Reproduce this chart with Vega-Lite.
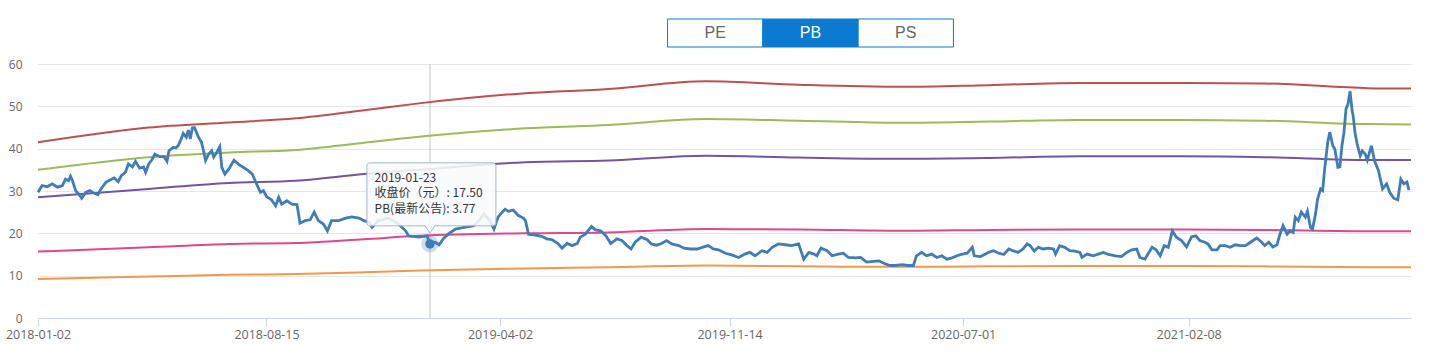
{
  "$schema": "https://vega.github.io/schema/vega-lite/v6.json",
  "padding": {"top": 18, "left": 5, "right": 16, "bottom": 4},
  "background": "#ffffff",
  "spacing": 10,
  "resolve": {"scale": {"color": "independent", "fill": "independent"}},
  "config": {"view": {"stroke": null}, "font": "Open Sans"},
  "datasets": {
    "buttons": [
      {"label": "PE", "state": "off"},
      {"label": "PB", "state": "on"},
      {"label": "PS", "state": "off"}
    ],
    "tip": [
      {"date": "2019-01-23", "close": 17.5, "pb": 3.77}
    ],
    "bands": [
      {"date": "2018-01-02", "series": "10.9倍", "value": 41.5},
      {"date": "2018-04-21", "series": "10.9倍", "value": 45.0},
      {"date": "2018-07-09", "series": "10.9倍", "value": 46.2},
      {"date": "2018-09-13", "series": "10.9倍", "value": 47.2},
      {"date": "2018-11-19", "series": "10.9倍", "value": 49.1},
      {"date": "2019-01-12", "series": "10.9倍", "value": 50.7},
      {"date": "2019-04-27", "series": "10.9倍", "value": 53.1},
      {"date": "2019-07-18", "series": "10.9倍", "value": 54.1},
      {"date": "2019-10-22", "series": "10.9倍", "value": 55.9},
      {"date": "2020-01-21", "series": "10.9倍", "value": 55.1},
      {"date": "2020-05-01", "series": "10.9倍", "value": 54.6},
      {"date": "2020-07-26", "series": "10.9倍", "value": 55.0},
      {"date": "2020-10-22", "series": "10.9倍", "value": 55.5},
      {"date": "2021-01-29", "series": "10.9倍", "value": 55.5},
      {"date": "2021-04-23", "series": "10.9倍", "value": 55.4},
      {"date": "2021-08-04", "series": "10.9倍", "value": 54.3},
      {"date": "2021-09-15", "series": "10.9倍", "value": 54.2},
      {"date": "2018-01-02", "series": "9.2倍", "value": 35.0},
      {"date": "2018-04-21", "series": "9.2倍", "value": 38.0},
      {"date": "2018-07-09", "series": "9.2倍", "value": 39.1},
      {"date": "2018-09-13", "series": "9.2倍", "value": 39.7},
      {"date": "2018-11-19", "series": "9.2倍", "value": 41.4},
      {"date": "2019-01-12", "series": "9.2倍", "value": 42.8},
      {"date": "2019-04-27", "series": "9.2倍", "value": 44.8},
      {"date": "2019-07-18", "series": "9.2倍", "value": 45.6},
      {"date": "2019-10-22", "series": "9.2倍", "value": 47.0},
      {"date": "2020-01-21", "series": "9.2倍", "value": 46.6},
      {"date": "2020-05-01", "series": "9.2倍", "value": 46.1},
      {"date": "2020-07-26", "series": "9.2倍", "value": 46.4},
      {"date": "2020-10-22", "series": "9.2倍", "value": 46.8},
      {"date": "2021-01-29", "series": "9.2倍", "value": 46.8},
      {"date": "2021-04-23", "series": "9.2倍", "value": 46.6},
      {"date": "2021-08-04", "series": "9.2倍", "value": 45.8},
      {"date": "2021-09-15", "series": "9.2倍", "value": 45.7},
      {"date": "2018-01-02", "series": "7.5倍", "value": 28.5},
      {"date": "2018-04-21", "series": "7.5倍", "value": 30.5},
      {"date": "2018-07-09", "series": "7.5倍", "value": 31.9},
      {"date": "2018-09-13", "series": "7.5倍", "value": 32.4},
      {"date": "2018-11-19", "series": "7.5倍", "value": 34.0},
      {"date": "2019-01-12", "series": "7.5倍", "value": 35.0},
      {"date": "2019-04-27", "series": "7.5倍", "value": 36.8},
      {"date": "2019-07-18", "series": "7.5倍", "value": 37.2},
      {"date": "2019-10-22", "series": "7.5倍", "value": 38.3},
      {"date": "2020-01-21", "series": "7.5倍", "value": 37.9},
      {"date": "2020-05-01", "series": "7.5倍", "value": 37.6},
      {"date": "2020-07-26", "series": "7.5倍", "value": 37.8},
      {"date": "2020-10-22", "series": "7.5倍", "value": 38.2},
      {"date": "2021-01-29", "series": "7.5倍", "value": 38.2},
      {"date": "2021-04-23", "series": "7.5倍", "value": 38.0},
      {"date": "2021-08-04", "series": "7.5倍", "value": 37.3},
      {"date": "2021-09-15", "series": "7.5倍", "value": 37.3},
      {"date": "2018-01-02", "series": "4.2倍", "value": 15.7},
      {"date": "2018-04-21", "series": "4.2倍", "value": 16.7},
      {"date": "2018-07-09", "series": "4.2倍", "value": 17.5},
      {"date": "2018-09-13", "series": "4.2倍", "value": 17.7},
      {"date": "2018-11-19", "series": "4.2倍", "value": 18.6},
      {"date": "2019-01-12", "series": "4.2倍", "value": 19.4},
      {"date": "2019-04-27", "series": "4.2倍", "value": 20.0},
      {"date": "2019-07-18", "series": "4.2倍", "value": 20.2},
      {"date": "2019-10-22", "series": "4.2倍", "value": 21.0},
      {"date": "2020-01-21", "series": "4.2倍", "value": 20.9},
      {"date": "2020-05-01", "series": "4.2倍", "value": 20.6},
      {"date": "2020-07-26", "series": "4.2倍", "value": 20.8},
      {"date": "2020-10-22", "series": "4.2倍", "value": 20.9},
      {"date": "2021-01-29", "series": "4.2倍", "value": 20.9},
      {"date": "2021-04-23", "series": "4.2倍", "value": 20.8},
      {"date": "2021-08-04", "series": "4.2倍", "value": 20.5},
      {"date": "2021-09-15", "series": "4.2倍", "value": 20.5},
      {"date": "2018-01-02", "series": "2.4倍", "value": 9.2},
      {"date": "2018-04-21", "series": "2.4倍", "value": 9.8},
      {"date": "2018-07-09", "series": "2.4倍", "value": 10.2},
      {"date": "2018-09-13", "series": "2.4倍", "value": 10.4},
      {"date": "2018-11-19", "series": "2.4倍", "value": 10.8},
      {"date": "2019-01-12", "series": "2.4倍", "value": 11.2},
      {"date": "2019-04-27", "series": "2.4倍", "value": 11.7},
      {"date": "2019-07-18", "series": "2.4倍", "value": 12.0},
      {"date": "2019-10-22", "series": "2.4倍", "value": 12.4},
      {"date": "2020-01-21", "series": "2.4倍", "value": 12.2},
      {"date": "2020-05-01", "series": "2.4倍", "value": 12.1},
      {"date": "2020-07-26", "series": "2.4倍", "value": 12.2},
      {"date": "2020-10-22", "series": "2.4倍", "value": 12.3},
      {"date": "2021-01-29", "series": "2.4倍", "value": 12.3},
      {"date": "2021-04-23", "series": "2.4倍", "value": 12.2},
      {"date": "2021-08-04", "series": "2.4倍", "value": 12.0},
      {"date": "2021-09-15", "series": "2.4倍", "value": 12.0}
    ],
    "price": [
      {"date": "2018-01-02", "close": 29.7},
      {"date": "2018-01-06", "close": 31.3},
      {"date": "2018-01-11", "close": 31.0},
      {"date": "2018-01-16", "close": 31.7},
      {"date": "2018-01-21", "close": 30.9},
      {"date": "2018-01-26", "close": 31.3},
      {"date": "2018-01-29", "close": 32.8},
      {"date": "2018-02-01", "close": 32.4},
      {"date": "2018-02-03", "close": 33.5},
      {"date": "2018-02-05", "close": 32.4},
      {"date": "2018-02-08", "close": 30.1},
      {"date": "2018-02-11", "close": 29.3},
      {"date": "2018-02-14", "close": 28.3},
      {"date": "2018-02-18", "close": 29.7},
      {"date": "2018-02-22", "close": 30.1},
      {"date": "2018-02-26", "close": 29.5},
      {"date": "2018-03-02", "close": 29.1},
      {"date": "2018-03-05", "close": 30.5},
      {"date": "2018-03-10", "close": 32.1},
      {"date": "2018-03-14", "close": 32.6},
      {"date": "2018-03-18", "close": 33.1},
      {"date": "2018-03-22", "close": 32.2},
      {"date": "2018-03-25", "close": 33.6},
      {"date": "2018-03-29", "close": 34.4},
      {"date": "2018-04-01", "close": 36.4},
      {"date": "2018-04-05", "close": 35.7},
      {"date": "2018-04-08", "close": 37.0},
      {"date": "2018-04-12", "close": 35.4},
      {"date": "2018-04-16", "close": 35.7},
      {"date": "2018-04-18", "close": 34.4},
      {"date": "2018-04-21", "close": 36.4},
      {"date": "2018-04-24", "close": 37.3},
      {"date": "2018-04-27", "close": 38.7},
      {"date": "2018-05-02", "close": 38.1},
      {"date": "2018-05-06", "close": 38.1},
      {"date": "2018-05-09", "close": 37.0},
      {"date": "2018-05-11", "close": 39.5},
      {"date": "2018-05-15", "close": 40.3},
      {"date": "2018-05-18", "close": 40.2},
      {"date": "2018-05-20", "close": 40.7},
      {"date": "2018-05-23", "close": 42.3},
      {"date": "2018-05-25", "close": 43.6},
      {"date": "2018-05-28", "close": 42.7},
      {"date": "2018-05-30", "close": 44.4},
      {"date": "2018-06-01", "close": 42.3},
      {"date": "2018-06-03", "close": 44.9},
      {"date": "2018-06-05", "close": 45.0},
      {"date": "2018-06-07", "close": 43.9},
      {"date": "2018-06-09", "close": 42.7},
      {"date": "2018-06-12", "close": 41.5},
      {"date": "2018-06-14", "close": 39.5},
      {"date": "2018-06-16", "close": 37.2},
      {"date": "2018-06-19", "close": 38.7},
      {"date": "2018-06-22", "close": 39.5},
      {"date": "2018-06-24", "close": 38.0},
      {"date": "2018-06-27", "close": 39.1},
      {"date": "2018-06-30", "close": 40.5},
      {"date": "2018-07-02", "close": 35.6},
      {"date": "2018-07-05", "close": 34.0},
      {"date": "2018-07-09", "close": 35.2},
      {"date": "2018-07-14", "close": 37.3},
      {"date": "2018-07-19", "close": 36.2},
      {"date": "2018-07-23", "close": 35.6},
      {"date": "2018-07-28", "close": 34.8},
      {"date": "2018-08-01", "close": 34.0},
      {"date": "2018-08-04", "close": 32.3},
      {"date": "2018-08-09", "close": 29.7},
      {"date": "2018-08-12", "close": 30.1},
      {"date": "2018-08-15", "close": 28.7},
      {"date": "2018-08-20", "close": 27.9},
      {"date": "2018-08-24", "close": 26.5},
      {"date": "2018-08-27", "close": 28.5},
      {"date": "2018-08-30", "close": 26.9},
      {"date": "2018-09-04", "close": 27.7},
      {"date": "2018-09-09", "close": 26.9},
      {"date": "2018-09-14", "close": 26.8},
      {"date": "2018-09-17", "close": 22.4},
      {"date": "2018-09-22", "close": 23.0},
      {"date": "2018-09-27", "close": 23.2},
      {"date": "2018-10-01", "close": 25.0},
      {"date": "2018-10-05", "close": 23.0},
      {"date": "2018-10-10", "close": 22.2},
      {"date": "2018-10-14", "close": 20.6},
      {"date": "2018-10-18", "close": 23.0},
      {"date": "2018-10-25", "close": 23.0},
      {"date": "2018-11-01", "close": 23.6},
      {"date": "2018-11-07", "close": 23.9},
      {"date": "2018-11-14", "close": 23.6},
      {"date": "2018-11-19", "close": 23.0},
      {"date": "2018-11-24", "close": 22.6},
      {"date": "2018-11-27", "close": 21.4},
      {"date": "2018-12-03", "close": 23.0},
      {"date": "2018-12-13", "close": 23.6},
      {"date": "2018-12-23", "close": 22.2},
      {"date": "2018-12-30", "close": 20.6},
      {"date": "2019-01-02", "close": 19.4},
      {"date": "2019-01-08", "close": 19.2},
      {"date": "2019-01-12", "close": 19.1},
      {"date": "2019-01-20", "close": 19.4},
      {"date": "2019-01-23", "close": 17.5},
      {"date": "2019-01-28", "close": 17.9},
      {"date": "2019-02-01", "close": 17.3},
      {"date": "2019-02-05", "close": 18.7},
      {"date": "2019-02-10", "close": 19.8},
      {"date": "2019-02-17", "close": 21.0},
      {"date": "2019-02-23", "close": 21.3},
      {"date": "2019-03-02", "close": 21.6},
      {"date": "2019-03-07", "close": 21.8},
      {"date": "2019-03-12", "close": 23.0},
      {"date": "2019-03-17", "close": 24.6},
      {"date": "2019-03-23", "close": 23.0},
      {"date": "2019-03-27", "close": 21.0},
      {"date": "2019-03-31", "close": 23.8},
      {"date": "2019-04-04", "close": 25.0},
      {"date": "2019-04-07", "close": 25.7},
      {"date": "2019-04-10", "close": 25.2},
      {"date": "2019-04-15", "close": 25.5},
      {"date": "2019-04-20", "close": 24.2},
      {"date": "2019-04-25", "close": 23.6},
      {"date": "2019-04-27", "close": 23.0},
      {"date": "2019-04-30", "close": 19.8},
      {"date": "2019-05-07", "close": 19.6},
      {"date": "2019-05-13", "close": 19.3},
      {"date": "2019-05-18", "close": 18.7},
      {"date": "2019-05-23", "close": 18.5},
      {"date": "2019-05-29", "close": 17.6},
      {"date": "2019-06-02", "close": 16.5},
      {"date": "2019-06-07", "close": 17.6},
      {"date": "2019-06-12", "close": 17.1},
      {"date": "2019-06-17", "close": 17.6},
      {"date": "2019-06-20", "close": 19.1},
      {"date": "2019-06-25", "close": 19.8},
      {"date": "2019-07-01", "close": 21.6},
      {"date": "2019-07-05", "close": 20.8},
      {"date": "2019-07-10", "close": 20.6},
      {"date": "2019-07-15", "close": 19.5},
      {"date": "2019-07-20", "close": 17.6},
      {"date": "2019-07-26", "close": 18.7},
      {"date": "2019-07-31", "close": 18.3},
      {"date": "2019-08-05", "close": 17.1},
      {"date": "2019-08-09", "close": 16.3},
      {"date": "2019-08-13", "close": 17.9},
      {"date": "2019-08-19", "close": 19.1},
      {"date": "2019-08-25", "close": 18.5},
      {"date": "2019-08-29", "close": 17.5},
      {"date": "2019-09-03", "close": 17.2},
      {"date": "2019-09-08", "close": 17.6},
      {"date": "2019-09-13", "close": 18.3},
      {"date": "2019-09-18", "close": 17.5},
      {"date": "2019-09-25", "close": 17.1},
      {"date": "2019-09-30", "close": 16.5},
      {"date": "2019-10-06", "close": 16.3},
      {"date": "2019-10-13", "close": 16.3},
      {"date": "2019-10-18", "close": 16.7},
      {"date": "2019-10-24", "close": 17.1},
      {"date": "2019-10-29", "close": 16.3},
      {"date": "2019-11-03", "close": 16.1},
      {"date": "2019-11-10", "close": 15.3},
      {"date": "2019-11-16", "close": 14.9},
      {"date": "2019-11-23", "close": 14.3},
      {"date": "2019-11-29", "close": 15.1},
      {"date": "2019-12-04", "close": 15.5},
      {"date": "2019-12-09", "close": 14.7},
      {"date": "2019-12-16", "close": 15.9},
      {"date": "2019-12-21", "close": 15.5},
      {"date": "2019-12-26", "close": 16.7},
      {"date": "2020-01-01", "close": 17.5},
      {"date": "2020-01-08", "close": 17.3},
      {"date": "2020-01-14", "close": 17.1},
      {"date": "2020-01-21", "close": 17.5},
      {"date": "2020-01-26", "close": 13.9},
      {"date": "2020-01-31", "close": 15.5},
      {"date": "2020-02-05", "close": 15.1},
      {"date": "2020-02-08", "close": 14.7},
      {"date": "2020-02-12", "close": 16.5},
      {"date": "2020-02-18", "close": 15.9},
      {"date": "2020-02-23", "close": 14.7},
      {"date": "2020-02-29", "close": 15.1},
      {"date": "2020-03-05", "close": 15.3},
      {"date": "2020-03-10", "close": 14.3},
      {"date": "2020-03-17", "close": 14.2},
      {"date": "2020-03-22", "close": 14.3},
      {"date": "2020-03-28", "close": 13.2},
      {"date": "2020-04-04", "close": 13.4},
      {"date": "2020-04-09", "close": 13.5},
      {"date": "2020-04-15", "close": 12.8},
      {"date": "2020-04-20", "close": 12.4},
      {"date": "2020-04-25", "close": 12.4},
      {"date": "2020-05-02", "close": 12.6},
      {"date": "2020-05-08", "close": 12.4},
      {"date": "2020-05-13", "close": 12.4},
      {"date": "2020-05-16", "close": 14.7},
      {"date": "2020-05-21", "close": 15.5},
      {"date": "2020-05-26", "close": 14.7},
      {"date": "2020-05-31", "close": 15.1},
      {"date": "2020-06-05", "close": 14.3},
      {"date": "2020-06-10", "close": 14.7},
      {"date": "2020-06-15", "close": 13.9},
      {"date": "2020-06-20", "close": 14.2},
      {"date": "2020-06-25", "close": 14.7},
      {"date": "2020-06-30", "close": 15.1},
      {"date": "2020-07-05", "close": 15.3},
      {"date": "2020-07-10", "close": 16.7},
      {"date": "2020-07-12", "close": 14.7},
      {"date": "2020-07-18", "close": 14.5},
      {"date": "2020-07-23", "close": 15.1},
      {"date": "2020-07-26", "close": 15.5},
      {"date": "2020-07-31", "close": 15.9},
      {"date": "2020-08-05", "close": 15.3},
      {"date": "2020-08-10", "close": 15.0},
      {"date": "2020-08-15", "close": 16.3},
      {"date": "2020-08-19", "close": 15.9},
      {"date": "2020-08-24", "close": 15.5},
      {"date": "2020-08-29", "close": 16.3},
      {"date": "2020-09-02", "close": 17.5},
      {"date": "2020-09-05", "close": 17.1},
      {"date": "2020-09-09", "close": 15.8},
      {"date": "2020-09-13", "close": 16.7},
      {"date": "2020-09-18", "close": 16.3},
      {"date": "2020-09-23", "close": 16.5},
      {"date": "2020-09-28", "close": 16.3},
      {"date": "2020-09-30", "close": 15.1},
      {"date": "2020-10-04", "close": 17.1},
      {"date": "2020-10-09", "close": 16.7},
      {"date": "2020-10-14", "close": 15.9},
      {"date": "2020-10-19", "close": 15.8},
      {"date": "2020-10-24", "close": 15.5},
      {"date": "2020-10-26", "close": 14.3},
      {"date": "2020-10-31", "close": 15.1},
      {"date": "2020-11-06", "close": 14.7},
      {"date": "2020-11-11", "close": 15.1},
      {"date": "2020-11-16", "close": 15.5},
      {"date": "2020-11-21", "close": 15.0},
      {"date": "2020-11-28", "close": 14.7},
      {"date": "2020-12-04", "close": 14.5},
      {"date": "2020-12-09", "close": 15.5},
      {"date": "2020-12-14", "close": 16.1},
      {"date": "2020-12-19", "close": 16.3},
      {"date": "2020-12-22", "close": 14.3},
      {"date": "2020-12-27", "close": 13.9},
      {"date": "2020-12-30", "close": 15.1},
      {"date": "2021-01-03", "close": 16.7},
      {"date": "2021-01-07", "close": 16.1},
      {"date": "2021-01-11", "close": 14.7},
      {"date": "2021-01-15", "close": 17.1},
      {"date": "2021-01-19", "close": 16.7},
      {"date": "2021-01-23", "close": 20.6},
      {"date": "2021-01-27", "close": 19.1},
      {"date": "2021-02-01", "close": 18.3},
      {"date": "2021-02-06", "close": 16.8},
      {"date": "2021-02-11", "close": 19.2},
      {"date": "2021-02-15", "close": 19.4},
      {"date": "2021-02-19", "close": 18.3},
      {"date": "2021-02-24", "close": 17.9},
      {"date": "2021-02-27", "close": 17.5},
      {"date": "2021-03-03", "close": 16.1},
      {"date": "2021-03-08", "close": 16.1},
      {"date": "2021-03-11", "close": 17.1},
      {"date": "2021-03-16", "close": 17.1},
      {"date": "2021-03-21", "close": 16.7},
      {"date": "2021-03-26", "close": 17.3},
      {"date": "2021-03-31", "close": 17.1},
      {"date": "2021-04-05", "close": 17.1},
      {"date": "2021-04-10", "close": 17.9},
      {"date": "2021-04-16", "close": 18.9},
      {"date": "2021-04-21", "close": 17.9},
      {"date": "2021-04-24", "close": 17.1},
      {"date": "2021-04-28", "close": 17.9},
      {"date": "2021-05-02", "close": 16.8},
      {"date": "2021-05-06", "close": 17.3},
      {"date": "2021-05-09", "close": 19.8},
      {"date": "2021-05-12", "close": 21.8},
      {"date": "2021-05-16", "close": 19.8},
      {"date": "2021-05-19", "close": 20.6},
      {"date": "2021-05-22", "close": 20.2},
      {"date": "2021-05-24", "close": 23.8},
      {"date": "2021-05-27", "close": 23.0},
      {"date": "2021-05-30", "close": 25.0},
      {"date": "2021-06-03", "close": 23.8},
      {"date": "2021-06-05", "close": 25.2},
      {"date": "2021-06-08", "close": 21.4},
      {"date": "2021-06-10", "close": 21.0},
      {"date": "2021-06-13", "close": 24.6},
      {"date": "2021-06-15", "close": 28.1},
      {"date": "2021-06-18", "close": 30.5},
      {"date": "2021-06-20", "close": 30.1},
      {"date": "2021-06-22", "close": 35.2},
      {"date": "2021-06-25", "close": 41.5},
      {"date": "2021-06-27", "close": 43.9},
      {"date": "2021-06-30", "close": 40.7},
      {"date": "2021-07-02", "close": 39.9},
      {"date": "2021-07-05", "close": 35.6},
      {"date": "2021-07-07", "close": 35.7},
      {"date": "2021-07-09", "close": 40.7},
      {"date": "2021-07-11", "close": 43.9},
      {"date": "2021-07-13", "close": 49.4},
      {"date": "2021-07-15", "close": 50.6},
      {"date": "2021-07-17", "close": 53.6},
      {"date": "2021-07-19", "close": 49.0},
      {"date": "2021-07-20", "close": 47.8},
      {"date": "2021-07-22", "close": 43.5},
      {"date": "2021-07-24", "close": 41.1},
      {"date": "2021-07-27", "close": 38.3},
      {"date": "2021-07-29", "close": 39.5},
      {"date": "2021-08-01", "close": 38.7},
      {"date": "2021-08-03", "close": 37.3},
      {"date": "2021-08-07", "close": 40.7},
      {"date": "2021-08-10", "close": 37.2},
      {"date": "2021-08-14", "close": 34.8},
      {"date": "2021-08-18", "close": 30.5},
      {"date": "2021-08-22", "close": 31.7},
      {"date": "2021-08-25", "close": 29.7},
      {"date": "2021-08-29", "close": 28.3},
      {"date": "2021-09-02", "close": 27.9},
      {"date": "2021-09-05", "close": 32.8},
      {"date": "2021-09-08", "close": 31.7},
      {"date": "2021-09-11", "close": 32.1},
      {"date": "2021-09-13", "close": 30.2}
    ]
  },
  "vconcat": [
    {
      "width": 1373,
      "height": 28,
      "data": {"name": "buttons"},
      "layer": [
        {
          "mark": {"type": "rect", "stroke": "#0b7ad1", "strokeWidth": 1},
          "encoding": {
            "x": {"field": "label", "type": "nominal", "axis": null,
                  "scale": {"domain": ["_1", "_2", "_3", "_4", "_5", "_6", "PE", "PB", "PS", "_7", "_8", "_9", "_10"],
                            "paddingInner": 0, "paddingOuter": 0.705, "align": 0.431}},
            "fill": {"field": "state", "type": "nominal", "legend": null,
                     "scale": {"domain": ["off", "on"], "range": ["#ffffff", "#0b7ad1"]}}
          }
        },
        {
          "mark": {"type": "text", "fontSize": 16, "font": "Liberation Sans", "baseline": "middle"},
          "encoding": {
            "x": {"field": "label", "type": "nominal", "axis": null},
            "text": {"field": "label"},
            "color": {"field": "state", "type": "nominal", "legend": null,
                      "scale": {"domain": ["off", "on"], "range": ["#666666", "#ffffff"]}}
          }
        }
      ]
    },
    {
      "width": 1373,
      "height": 254,
      "layer": [
        {
          "data": {"name": "tip"},
          "mark": {"type": "rule", "color": "#c4c4c4", "strokeWidth": 1},
          "encoding": {
            "x": {"field": "date", "type": "temporal"}
          }
        },
        {
          "data": {"name": "bands"},
          "mark": {"type": "line", "strokeWidth": 2, "interpolate": "monotone"},
          "encoding": {
            "x": {"field": "date", "type": "temporal",
                  "scale": {"type": "utc", "domain": [{"year": 2018, "month": 1, "date": 2, "utc": true}, {"year": 2021, "month": 9, "date": 15, "utc": true}]},
                  "axis": {
                    "title": null, "grid": false,
                    "values": [
                      {"year": 2018, "month": 1, "date": 2, "utc": true},
                      {"year": 2018, "month": 8, "date": 15, "utc": true},
                      {"year": 2019, "month": 4, "date": 2, "utc": true},
                      {"year": 2019, "month": 11, "date": 14, "utc": true},
                      {"year": 2020, "month": 7, "date": 1, "utc": true},
                      {"year": 2021, "month": 2, "date": 8, "utc": true}
                    ],
                    "format": "%Y-%m-%d",
                    "labelColor": "#666666", "labelFont": "Open Sans", "labelFontSize": 12.5,
                    "tickColor": "#ccd6eb", "domainColor": "#ccd6eb", "tickSize": 8, "labelPadding": 2,
                    "labelFlush": false, "labelOverlap": false, "labelAngle": 0
                  }},
            "y": {"field": "value", "type": "quantitative",
                  "scale": {"domain": [0, 60], "nice": false},
                  "axis": {
                    "title": null, "values": [0, 10, 20, 30, 40, 50, 60],
                    "domain": false, "ticks": false, "labelPadding": 16,
                    "gridColor": "#e6e6e6", "labelColor": "#666666", "labelFont": "Open Sans", "labelFontSize": 12
                  }},
            "color": {"field": "series", "type": "nominal", "legend": null,
                      "scale": {"domain": ["10.9倍", "9.2倍", "7.5倍", "4.2倍", "2.4倍"],
                                "range": ["#c0504d", "#9bbb59", "#73559f", "#e4468c", "#f79646"]}}
          }
        },
        {
          "data": {"name": "price"},
          "mark": {"type": "line", "strokeWidth": 2.8, "color": "#3f7cb8"},
          "encoding": {
            "x": {"field": "date", "type": "temporal"},
            "y": {"field": "close", "type": "quantitative"}
          }
        },
        {
          "data": {"name": "tip"},
          "mark": {"type": "point", "filled": true, "size": 300, "color": "#3f7cb8", "opacity": 0.25},
          "encoding": {
            "x": {"field": "date", "type": "temporal"},
            "y": {"field": "close", "type": "quantitative"}
          }
        },
        {
          "data": {"name": "tip"},
          "mark": {"type": "point", "filled": true, "size": 90, "color": "#3f7cb8", "opacity": 1},
          "encoding": {
            "x": {"field": "date", "type": "temporal"},
            "y": {"field": "close", "type": "quantitative"}
          }
        },
        {
          "data": {"name": "tip"},
          "mark": {"type": "rect", "width": 129, "height": 63, "xOffset": 1.4, "yOffset": -49.6,
                   "fill": "#f8fafc", "fillOpacity": 0.88, "stroke": "#a3b6cc", "strokeWidth": 1, "cornerRadius": 3},
          "encoding": {
            "x": {"field": "date", "type": "temporal"},
            "y": {"field": "close", "type": "quantitative"}
          }
        },
        {
          "data": {"name": "tip"},
          "mark": {"type": "point", "shape": "M-1,-0.8L0,0.66L1,-0.8", "size": 121, "filled": false,
                   "fill": "#f8fafc", "fillOpacity": 1, "stroke": "#a3b6cc", "strokeWidth": 1, "opacity": 1, "yOffset": -14.6},
          "encoding": {
            "x": {"field": "date", "type": "temporal"},
            "y": {"field": "close", "type": "quantitative"}
          }
        },
        {
          "data": {"name": "tip"},
          "mark": {"type": "text", "align": "left", "baseline": "middle", "dx": -55.4, "dy": -66,
                   "fontSize": 12, "font": "Noto Sans CJK SC", "color": "#333333"},
          "encoding": {
            "x": {"field": "date", "type": "temporal"},
            "y": {"field": "close", "type": "quantitative"},
            "text": {"value": "2019-01-23"}
          }
        },
        {
          "data": {"name": "tip"},
          "mark": {"type": "text", "align": "left", "baseline": "middle", "dx": -55.4, "dy": -50.5,
                   "fontSize": 12, "font": "Noto Sans CJK SC", "color": "#333333"},
          "encoding": {
            "x": {"field": "date", "type": "temporal"},
            "y": {"field": "close", "type": "quantitative"},
            "text": {"value": "收盘价（元）: 17.50"}
          }
        },
        {
          "data": {"name": "tip"},
          "mark": {"type": "text", "align": "left", "baseline": "middle", "dx": -55.4, "dy": -35,
                   "fontSize": 12, "font": "Noto Sans CJK SC", "color": "#333333"},
          "encoding": {
            "x": {"field": "date", "type": "temporal"},
            "y": {"field": "close", "type": "quantitative"},
            "text": {"value": "PB(最新公告): 3.77"}
          }
        }
      ]
    }
  ]
}
